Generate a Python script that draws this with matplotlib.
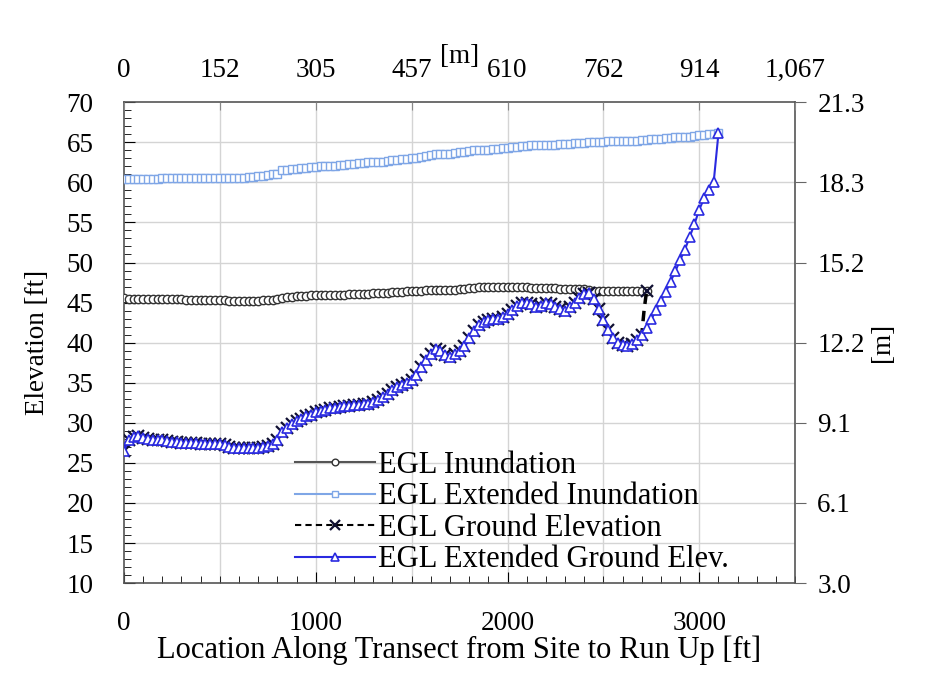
import matplotlib
matplotlib.use("Agg")
import matplotlib.pyplot as plt
from matplotlib.ticker import MultipleLocator

plt.rcParams['font.family'] = ['Liberation Serif', 'DejaVu Serif']

# ---------------- data ----------------
x_inund = [0, 25, 50, 75, 100, 125, 150, 175, 200, 225, 250, 275, 300, 325, 350, 375, 400, 425, 450, 475,
           500, 525, 550, 575, 600, 625, 650, 675, 700, 725, 750, 775, 800, 825, 850, 875, 900, 925, 950, 975,
           1000, 1025, 1050, 1075, 1100, 1125, 1150, 1175, 1200, 1225, 1250, 1275, 1300, 1325, 1350, 1375,
           1400, 1425, 1450, 1475, 1500, 1525, 1550, 1575, 1600, 1625, 1650, 1675, 1700, 1725, 1750, 1775,
           1800, 1825, 1850, 1875, 1900, 1925, 1950, 1975, 2000, 2025, 2050, 2075, 2100, 2125, 2150, 2175,
           2200, 2225, 2250, 2275, 2300, 2325, 2350, 2375, 2400, 2425, 2450, 2475, 2500, 2525, 2550, 2575,
           2600, 2625, 2650, 2675, 2700, 2725]
egl_inundation = [45.6, 45.5, 45.5, 45.5, 45.5, 45.5, 45.4, 45.4, 45.4, 45.4, 45.4, 45.4, 45.4, 45.3, 45.3, 45.3,
                  45.3, 45.3, 45.3, 45.3, 45.3, 45.3, 45.2, 45.2, 45.2, 45.2, 45.2, 45.2, 45.2, 45.3, 45.3, 45.3,
                  45.4, 45.6, 45.7, 45.7, 45.8, 45.8, 45.8, 45.9, 45.9, 45.9, 46.0, 46.0, 46.0, 46.0, 46.0, 46.1,
                  46.1, 46.1, 46.1, 46.1, 46.2, 46.2, 46.2, 46.2, 46.3, 46.3, 46.3, 46.4, 46.4, 46.5, 46.5, 46.6,
                  46.6, 46.6, 46.6, 46.6, 46.6, 46.6, 46.7, 46.7, 46.8, 46.8, 46.9, 46.9, 46.9, 46.9, 46.9, 46.9,
                  46.9, 46.9, 46.9, 46.9, 46.9, 46.8, 46.8, 46.8, 46.8, 46.8, 46.8, 46.7, 46.7, 46.7, 46.7, 46.7,
                  46.7, 46.6, 46.5, 46.5, 46.5, 46.5, 46.5, 46.5, 46.5, 46.5, 46.5, 46.5, 46.5, 46.5]

x_ext = [0, 25, 50, 75, 100, 125, 150, 175, 200, 225, 250, 275, 300, 325, 350, 375, 400, 425, 450, 475,
         500, 525, 550, 575, 600, 625, 650, 675, 700, 725, 750, 775, 800, 825, 850, 875, 900, 925, 950, 975,
         1000, 1025, 1050, 1075, 1100, 1125, 1150, 1175, 1200, 1225, 1250, 1275, 1300, 1325, 1350, 1375,
         1400, 1425, 1450, 1475, 1500, 1525, 1550, 1575, 1600, 1625, 1650, 1675, 1700, 1725, 1750, 1775,
         1800, 1825, 1850, 1875, 1900, 1925, 1950, 1975, 2000, 2025, 2050, 2075, 2100, 2125, 2150, 2175,
         2200, 2225, 2250, 2275, 2300, 2325, 2350, 2375, 2400, 2425, 2450, 2475, 2500, 2525, 2550, 2575,
         2600, 2625, 2650, 2675, 2700, 2725, 2750, 2775, 2800, 2825, 2850, 2875, 2900, 2925, 2950, 2975,
         3000, 3025, 3050, 3075, 3100]
egl_ext_inundation = [60.4, 60.4, 60.4, 60.4, 60.4, 60.4, 60.4, 60.4, 60.5, 60.5, 60.5, 60.5, 60.5, 60.5,
                      60.5, 60.5, 60.5, 60.5, 60.5, 60.5, 60.5, 60.5, 60.6, 60.6, 60.6, 60.6, 60.7, 60.7,
                      60.8, 60.8, 60.9, 61.0, 61.1, 61.5, 61.6, 61.7, 61.7, 61.8, 61.8, 61.9, 61.9, 62.0,
                      62.0, 62.1, 62.1, 62.2, 62.2, 62.3, 62.3, 62.4, 62.4, 62.5, 62.5, 62.6, 62.6, 62.7,
                      62.8, 62.8, 62.9, 62.9, 63.0, 63.1, 63.2, 63.3, 63.4, 63.5, 63.5, 63.6, 63.6, 63.7,
                      63.8, 63.8, 63.9, 64.0, 64.0, 64.1, 64.1, 64.2, 64.2, 64.3, 64.3, 64.4, 64.4, 64.5,
                      64.5, 64.6, 64.6, 64.6, 64.7, 64.7, 64.7, 64.8, 64.8, 64.8, 64.9, 64.9, 64.9, 65.0,
                      65.0, 65.0, 65.0, 65.1, 65.1, 65.1, 65.1, 65.2, 65.2, 65.2, 65.3, 65.3, 65.4, 65.4,
                      65.4, 65.5, 65.5, 65.6, 65.6, 65.7, 65.7, 65.8, 65.9, 65.9, 66.0, 66.0, 66.1]

x_ground = [0, 25, 50, 75, 100, 125, 150, 175, 200, 225, 250, 275, 300, 325, 350, 375, 400, 425, 450, 475,
            500, 525, 550, 575, 600, 625, 650, 675, 700, 725, 750, 775, 800, 825, 850, 875, 900, 925, 950, 975,
            1000, 1025, 1050, 1075, 1100, 1125, 1150, 1175, 1200, 1225, 1250, 1275, 1300, 1325, 1350, 1375,
            1400, 1425, 1450, 1475, 1500, 1525, 1550, 1575, 1600, 1625, 1650, 1675, 1700, 1725, 1750, 1775,
            1800, 1825, 1850, 1875, 1900, 1925, 1950, 1975, 2000, 2025, 2050, 2075, 2100, 2125, 2150, 2175,
            2200, 2225, 2250, 2275, 2300, 2325, 2350, 2375, 2400, 2425, 2450, 2475, 2500, 2525, 2550, 2575,
            2600, 2625, 2650, 2675, 2700, 2712, 2725]
egl_ground = [26.5, 27.8, 28.2, 28.3, 28.1, 28.0, 27.9, 27.8, 27.8, 27.7, 27.6, 27.6, 27.5, 27.5, 27.5, 27.5,
              27.4, 27.4, 27.4, 27.3, 27.3, 27.2, 27.0, 26.9, 26.8, 26.8, 26.8, 26.9, 26.9, 27.0, 27.1, 27.3,
              27.8, 28.8, 29.4, 29.8, 30.2, 30.5, 30.8, 31.0, 31.3, 31.5, 31.6, 31.8, 31.9, 32.0, 32.1, 32.1,
              32.2, 32.2, 32.3, 32.4, 32.6, 32.9, 33.2, 33.6, 34.1, 34.5, 34.7, 35.0, 35.4, 36.0, 37.0, 37.8,
              38.6, 39.2, 39.0, 38.4, 38.2, 38.6, 38.9, 39.6, 40.6, 41.5, 42.2, 42.6, 42.8, 42.9, 43.0, 43.2,
              43.6, 44.1, 44.6, 44.9, 45.0, 44.8, 44.5, 44.6, 44.9, 44.8, 44.5, 44.2, 44.0, 44.4, 45.0, 45.6,
              46.1, 46.2, 45.4, 44.2, 42.8, 41.6, 40.6, 40.0, 39.7, 39.6, 39.8, 40.3, 41.0, 44.0, 46.4]

egl_ext_ground = [26.5, 27.8, 28.2, 28.3, 28.1, 28.0, 27.9, 27.8, 27.8, 27.7, 27.6, 27.6, 27.5, 27.5, 27.5, 27.5,
                  27.4, 27.4, 27.4, 27.3, 27.3, 27.2, 27.0, 26.9, 26.8, 26.8, 26.8, 26.9, 26.9, 27.0, 27.1, 27.3,
                  27.8, 28.8, 29.4, 29.8, 30.2, 30.5, 30.8, 31.0, 31.3, 31.5, 31.6, 31.8, 31.9, 32.0, 32.1, 32.1,
                  32.2, 32.2, 32.3, 32.4, 32.6, 32.9, 33.2, 33.6, 34.1, 34.5, 34.7, 35.0, 35.4, 36.0, 37.0, 37.8,
                  38.6, 39.2, 39.0, 38.4, 38.2, 38.6, 38.9, 39.6, 40.6, 41.5, 42.2, 42.6, 42.8, 42.9, 43.0, 43.2,
                  43.6, 44.1, 44.6, 44.9, 45.0, 44.8, 44.5, 44.6, 44.9, 44.8, 44.5, 44.2, 44.0, 44.4, 45.0, 45.6,
                  46.1, 46.2, 45.4, 44.2, 42.8, 41.6, 40.6, 40.0, 39.7, 39.6, 39.8, 40.3, 41.0, 41.8, 42.9, 44.1,
                  45.2, 46.3, 47.6, 48.9, 50.3, 51.6, 53.2, 54.8, 56.6, 58.0, 59.0, 60.0, 66.1]

top_tick_ft = [0, 500, 1000, 1500, 2000, 2500, 3000, 3500]
top_tick_labels = ['0', '152', '305', '457', '610', '762', '914', '1,067']
right_tick_ft = [10, 20, 30, 40, 50, 60, 70]
right_tick_labels = ['3.0', '6.1', '9.1', '12.2', '15.2', '18.3', '21.3']
bottom_ticks = [0, 1000, 2000, 3000]

# ---------------- figure ----------------
FT = 19.5   # tick labels
FL = 22     # axis labels / legend
fig = plt.figure(figsize=(9.30, 6.86), dpi=100)
ax = fig.add_axes([0.1333, 0.150, 0.7217, 0.701])

ax.set_xlim(0, 3500)
ax.set_ylim(10, 70)

# grid
for v in range(15, 70, 5):
    ax.axhline(v, color='#d4d4d4', lw=1.0, zorder=0)
for v in top_tick_ft[1:-1]:
    ax.axvline(v, color='#d4d4d4', lw=1.0, zorder=0)

l1, = ax.plot(x_inund, egl_inundation, color='#555555', lw=1.0, marker='o', ms=6,
              mfc='white', mec='#333333', mew=1.0, label='EGL Inundation', zorder=4)
l2, = ax.plot(x_ext, egl_ext_inundation, color='#7fa6e6', lw=1.0, marker='s', ms=6,
              mfc='white', mec='#7fa6e6', mew=1.0, label='EGL Extended Inundation', zorder=3)
l3, = ax.plot(x_ground, egl_ground, color='black', lw=2.5, ls=(0, (3, 2)), marker='x', ms=9,
              mec='#111133', mew=1.6, markevery=list(range(0, 109)) + [110],
              label='EGL Ground Elevation', zorder=5)
l4, = ax.plot(x_ext, egl_ext_ground, color='#2a2ae0', lw=1.5, marker='^', ms=7,
              mfc='white', mec='#2a2ae0', mew=1.2, label='EGL Extended Ground Elev.', zorder=6)

# axes styling
for s in ax.spines.values():
    s.set_color('#555555')
    s.set_linewidth(1.2)

ax.set_xticks(bottom_ticks)
ax.set_xticklabels([str(t) for t in bottom_ticks])
ax.xaxis.set_minor_locator(MultipleLocator(100))
ax.yaxis.set_major_locator(MultipleLocator(5))
ax.yaxis.set_minor_locator(MultipleLocator(1))
ax.tick_params(axis='x', which='major', direction='in', length=8, labelsize=FT, pad=20)
ax.tick_params(axis='x', which='minor', direction='in', length=5)
ax.tick_params(axis='y', which='major', direction='in', length=8, labelsize=FT, pad=22)
ax.tick_params(axis='y', which='minor', direction='in', length=5)

ax.set_xlabel('Location Along Transect from Site to Run Up [ft]', fontsize=FL, labelpad=0)
ax.set_ylabel('Elevation [ft]', fontsize=FT, labelpad=12)

# top axis (meters)
axt = ax.twiny()
axt.set_xlim(ax.get_xlim())
axt.set_xticks(top_tick_ft)
axt.set_xticklabels(top_tick_labels)
axt.tick_params(axis='x', direction='in', length=6, labelsize=FT, pad=14, color='#888888')
axt.set_xlabel('[m]', fontsize=FT, labelpad=-4)
for s in axt.spines.values():
    s.set_visible(False)

# right axis (meters)
axr = ax.twinx()
axr.set_ylim(ax.get_ylim())
axr.set_yticks(right_tick_ft)
axr.set_yticklabels(right_tick_labels)
axr.tick_params(axis='y', direction='out', length=8, labelsize=FT, pad=8, color='#666666')
axr.set_ylabel('[m]', fontsize=FT, labelpad=4)
for s in axr.spines.values():
    s.set_visible(False)

leg = ax.legend(handles=[l1, l2, l3, l4], loc='lower left', bbox_to_anchor=(0.228, -0.02),
                frameon=False, fontsize=FL, handlelength=2.6, handletextpad=0.1,
                labelspacing=0.08, borderaxespad=0.2, markerscale=0.8)
for h in leg.legend_handles:
    h.set_linewidth(1.5)
leg.set_zorder(10)

fig.savefig('out.png', dpi=100)
